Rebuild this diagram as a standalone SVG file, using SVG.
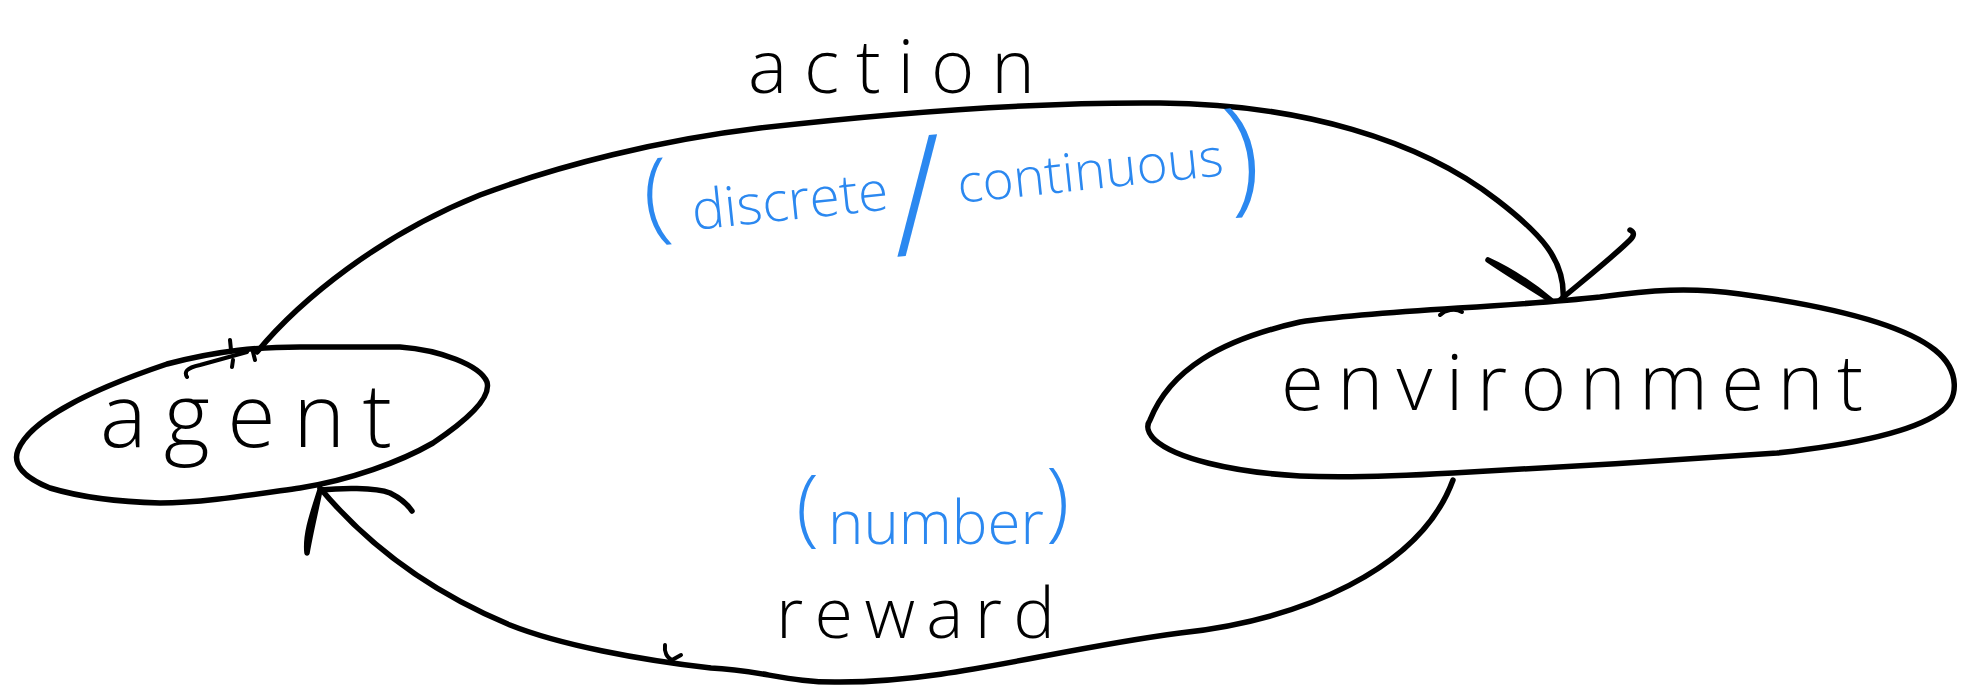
<svg xmlns="http://www.w3.org/2000/svg" width="1975" height="690" viewBox="0 0 1975 690">
<style>
.ink{fill:none;stroke:#000;stroke-width:5.5;stroke-linecap:round;stroke-linejoin:round}
.thin{fill:none;stroke:#000;stroke-width:4;stroke-linecap:round;stroke-linejoin:round}
.lbl{font-family:"Open Sans","Liberation Sans",Arial,sans-serif;font-weight:300;fill:#000}
.blue{font-family:"Open Sans","Liberation Sans",Arial,sans-serif;font-weight:300;fill:#2b88f0}
</style>
<rect width="1975" height="690" fill="#fff"/>
<g id="agent">
<path class="ink" d="M18,450 C30,420 90,390 167,364 C220,350 260,347 300,347 L400,347 C440,350 480,365 487,382 C492,400 460,425 433,443 C400,462 350,480 300,488 C250,495 200,503 160,503 C120,502 80,497 50,488 C25,478 12,465 18,450 Z"/>
<path class="thin" d="M187,377 C184,372 186,368 200,365 L247,352 M230,340 L231,350 M233,360 L232,367 M253,352 L255,360"/>
<text class="lbl" x="100" y="447" font-size="88" textLength="292" lengthAdjust="spacing">agent</text>
</g>
<g id="environment">
<path class="ink" d="M1150,420 C1170,370 1220,340 1300,322 C1380,310 1500,308 1600,297 C1650,290 1690,287 1740,294 C1820,305 1900,322 1935,350 C1960,370 1960,400 1939,413 C1910,433 1850,445 1777,453 C1680,460 1550,468 1453,473 C1400,476 1350,478 1300,476 C1230,472 1175,458 1155,440 C1147,432 1146,426 1150,420 Z"/>
<path class="thin" d="M1440,315 C1445,310 1455,308 1462,312"/>
<text class="lbl" x="1281" y="410" font-size="78" textLength="582" lengthAdjust="spacing">environment</text>
</g>
<g id="connectors">
<path id="action-edge" class="ink" d="M257,352 C300,300 380,235 480,195 C560,165 660,140 760,128 C900,112 1040,102 1160,103 C1300,104 1420,140 1497,200 C1540,233 1566,260 1563,300"/>
<path class="ink" d="M1488,260 C1510,275 1535,290 1552,301 C1535,287 1510,270 1488,260 M1560,300 C1590,275 1615,255 1630,240 C1635,235 1634,232 1630,230"/>
<path id="reward-edge" class="ink" d="M1453,480 C1420,570 1300,620 1180,633 C1050,650 950,682 840,682 C790,683 760,670 711,668 C640,660 560,645 510,625 C450,600 380,560 320,488"/>
<path class="ink" d="M320,490 C312,515 305,535 307,553 C310,535 316,510 320,490 M320,490 C340,488 375,487 390,493 C400,498 408,505 412,511"/>
<path class="thin" d="M665,645 C664,652 667,658 672,660 L681,655"/>
</g>
<g id="labels">
<text class="lbl" x="748" y="93" font-size="74" textLength="287" lengthAdjust="spacing">action</text>
<text class="blue" transform="rotate(-6 960 200)"><tspan x="645" y="198" font-size="100">(</tspan><tspan x="692" y="202" font-size="55">discrete</tspan><tspan x="890" y="250" font-size="165">/</tspan><tspan x="959" y="203" font-size="53">continuous</tspan><tspan x="1228" y="227" font-size="126">)</tspan></text>
<text class="blue"><tspan x="796" y="536" font-size="84">(</tspan><tspan x="828" y="544" font-size="60">number</tspan><tspan x="1046" y="530" font-size="86">)</tspan></text>
<text class="lbl" x="776" y="638" font-size="70" textLength="279" lengthAdjust="spacing">reward</text>
</g>
</svg>
